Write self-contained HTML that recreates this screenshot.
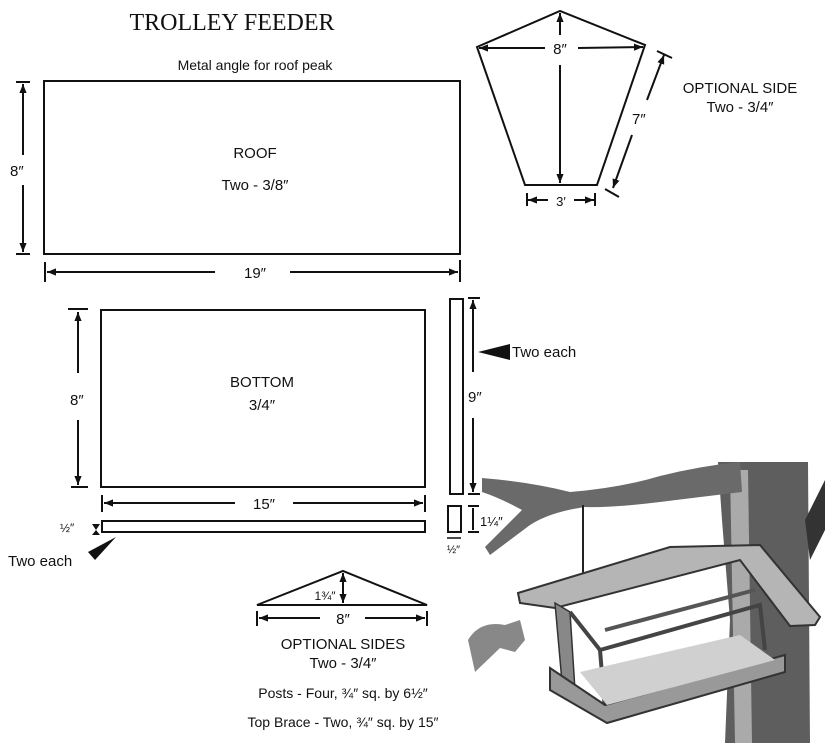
<!DOCTYPE html>
<html><head><meta charset="utf-8"><style>
html,body{margin:0;padding:0;background:#fff;}
svg{display:block}
text{font-family:"Liberation Sans",sans-serif;fill:#111}
</style></head><body>
<svg width="825" height="743" viewBox="0 0 825 743" xmlns="http://www.w3.org/2000/svg">
<defs>
<marker id="a" viewBox="0 0 10 10" refX="10" refY="5" markerWidth="9" markerHeight="9" orient="auto-start-reverse" markerUnits="userSpaceOnUse"><path d="M0,1 L10,5 L0,9 Z" fill="#111"/></marker>
</defs>
<g stroke="#111" stroke-width="2" fill="none">
<!-- roof -->
<rect x="44" y="81" width="416" height="173"/>
<line x1="16" y1="82" x2="30" y2="82"/><line x1="16" y1="254" x2="30" y2="254"/>
<line x1="23" y1="84" x2="23" y2="155" marker-start="url(#a)"/>
<line x1="23" y1="185" x2="23" y2="252" marker-end="url(#a)"/>
<line x1="45" y1="262" x2="45" y2="282"/><line x1="460" y1="260" x2="460" y2="282"/>
<line x1="47" y1="272" x2="215" y2="272" marker-start="url(#a)"/>
<line x1="290" y1="272" x2="458" y2="272" marker-end="url(#a)"/>
<!-- kite -->
<polygon points="477,47 560,11 645,45 597,185 525,185"/>
<line x1="479" y1="48" x2="545" y2="48" marker-start="url(#a)"/>
<line x1="578" y1="48" x2="643" y2="47" marker-end="url(#a)"/>
<line x1="560" y1="13" x2="560" y2="35" marker-start="url(#a)"/>
<line x1="560" y1="65" x2="560" y2="183" marker-end="url(#a)"/>
<line x1="527" y1="193" x2="527" y2="206"/><line x1="595" y1="193" x2="595" y2="206"/>
<line x1="528" y1="200" x2="548" y2="200" marker-start="url(#a)"/>
<line x1="574" y1="200" x2="594" y2="200" marker-end="url(#a)"/>
<!-- 7'' -->
<line x1="657" y1="51" x2="672" y2="58"/>
<line x1="664" y1="55" x2="647" y2="100" marker-start="url(#a)"/>
<line x1="632" y1="135" x2="613" y2="188" marker-end="url(#a)"/>
<line x1="605" y1="189" x2="619" y2="197"/>
<!-- bottom -->
<rect x="101" y="310" width="324" height="177"/>
<line x1="68" y1="309" x2="88" y2="309"/><line x1="71" y1="487" x2="88" y2="487"/>
<line x1="78" y1="312" x2="78" y2="373" marker-start="url(#a)"/>
<line x1="78" y1="420" x2="78" y2="485" marker-end="url(#a)"/>
<line x1="102" y1="495" x2="102" y2="512"/><line x1="425" y1="495" x2="425" y2="512"/>
<line x1="104" y1="503" x2="235" y2="503" marker-start="url(#a)"/>
<line x1="293" y1="503" x2="423" y2="503" marker-end="url(#a)"/>
<rect x="102" y="521" width="323" height="11"/>
<!-- vertical strip -->
<rect x="450" y="299" width="13" height="195"/>
<line x1="468" y1="298" x2="480" y2="298"/><line x1="468" y1="494" x2="480" y2="494"/>
<line x1="473" y1="300" x2="473" y2="372" marker-start="url(#a)"/>
<line x1="473" y1="418" x2="473" y2="492" marker-end="url(#a)"/>
<rect x="448" y="506" width="13" height="26"/>
<line x1="468" y1="506" x2="479" y2="506"/><line x1="468" y1="532" x2="479" y2="532"/>
<line x1="473" y1="508" x2="473" y2="530"/>
<line x1="447" y1="538" x2="461" y2="538" stroke-width="1.5"/>
<!-- triangle -->
<polygon points="257,605 343,571 427,605"/>
<line x1="343" y1="573" x2="343" y2="603" marker-start="url(#a)" marker-end="url(#a)"/>
<line x1="257" y1="611" x2="257" y2="626"/><line x1="427" y1="611" x2="427" y2="626"/>
<line x1="259" y1="618" x2="320" y2="618" marker-start="url(#a)"/>
<line x1="365" y1="618" x2="425" y2="618" marker-end="url(#a)"/>
</g>
<!-- pointer arrows -->
<polygon points="478,352 510,344 510,360" fill="#111"/>
<polygon points="88,552 116,537 95,560" fill="#111"/>
<polygon points="92,524 100,524 96,530 100,535 92,535 96,530" fill="#111"/>
<!-- text -->
<text x="232" y="30" text-anchor="middle" style="font-family:'Liberation Serif',serif;font-size:24px">TROLLEY FEEDER</text>
<text x="255" y="70" text-anchor="middle" font-size="14">Metal angle for roof peak</text>
<text x="10" y="176" font-size="15">8″</text>
<text x="255" y="158" text-anchor="middle" font-size="15">ROOF</text>
<text x="255" y="190" text-anchor="middle" font-size="15">Two - 3/8″</text>
<text x="255" y="278" text-anchor="middle" font-size="15">19″</text>
<text x="560" y="54" text-anchor="middle" font-size="15">8″</text>
<text x="561" y="206" text-anchor="middle" font-size="13">3′</text>
<text x="632" y="124" font-size="15">7″</text>
<text x="740" y="93" text-anchor="middle" font-size="15">OPTIONAL SIDE</text>
<text x="740" y="112" text-anchor="middle" font-size="15">Two - 3/4″</text>
<text x="70" y="405" font-size="15">8″</text>
<text x="262" y="387" text-anchor="middle" font-size="15">BOTTOM</text>
<text x="262" y="410" text-anchor="middle" font-size="15">3/4″</text>
<text x="264" y="509" text-anchor="middle" font-size="15">15″</text>
<text x="60" y="532" font-size="12">½″</text>
<text x="8" y="566" font-size="15">Two each</text>
<text x="512" y="357" font-size="15">Two each</text>
<text x="468" y="402" font-size="15">9″</text>
<text x="480" y="526" font-size="13">1¼″</text>
<text x="447" y="553" font-size="11">½″</text>
<text x="325" y="600" text-anchor="middle" font-size="12">1¾″</text>
<text x="343" y="624" text-anchor="middle" font-size="15">8″</text>
<text x="343" y="649" text-anchor="middle" font-size="15">OPTIONAL SIDES</text>
<text x="343" y="668" text-anchor="middle" font-size="15">Two - 3/4″</text>
<text x="343" y="698" text-anchor="middle" font-size="14">Posts - Four, ¾″ sq. by 6½″</text>
<text x="343" y="727" text-anchor="middle" font-size="14">Top Brace - Two, ¾″ sq. by 15″</text>
<!-- illustration -->
<g>
<path d="M718,462 L808,462 L810,743 L725,743 L730,620 L722,520 Z" fill="#5e5e5e"/>
<path d="M730,470 L748,470 L752,743 L735,743 Z" fill="#aaa"/>
<path d="M805,520 L825,480 L825,530 L810,560 Z" fill="#333"/>
<path d="M482,478 Q530,482 570,492 Q620,488 660,476 Q700,466 740,462 L742,492 Q700,497 660,502 Q610,508 585,507 Q550,512 530,525 Q510,540 490,555 L485,547 Q505,527 522,510 Q500,498 482,492 Z" fill="#6a6a6a"/>
<line x1="583" y1="505" x2="583" y2="593" stroke="#222" stroke-width="2"/>
<path d="M518,593 L670,547 L760,545 L820,617 L815,625 L790,626 L740,560 L555,608 L520,603 Z" fill="#b5b5b5" stroke="#333" stroke-width="2"/>
<path d="M555,603 L570,612 L575,690 L562,682 Z" fill="#888" stroke="#333" stroke-width="1.5"/>
<path d="M570,612 L600,650 L605,710 L590,700" fill="none" stroke="#444" stroke-width="4"/>
<path d="M600,650 L760,605 L765,650" fill="none" stroke="#444" stroke-width="4"/>
<path d="M605,630 L755,590" fill="none" stroke="#555" stroke-width="4"/>
<path d="M550,668 L605,705 L785,655 L785,672 L607,723 L550,690 Z" fill="#999" stroke="#333" stroke-width="2"/>
<path d="M580,672 L740,635 L775,660 L607,705 Z" fill="#d0d0d0"/>
<path d="M468,640 Q480,620 505,625 L520,620 L525,640 L515,652 L500,648 L475,672 Z" fill="#888"/>
</g>
</svg>
</body></html>
